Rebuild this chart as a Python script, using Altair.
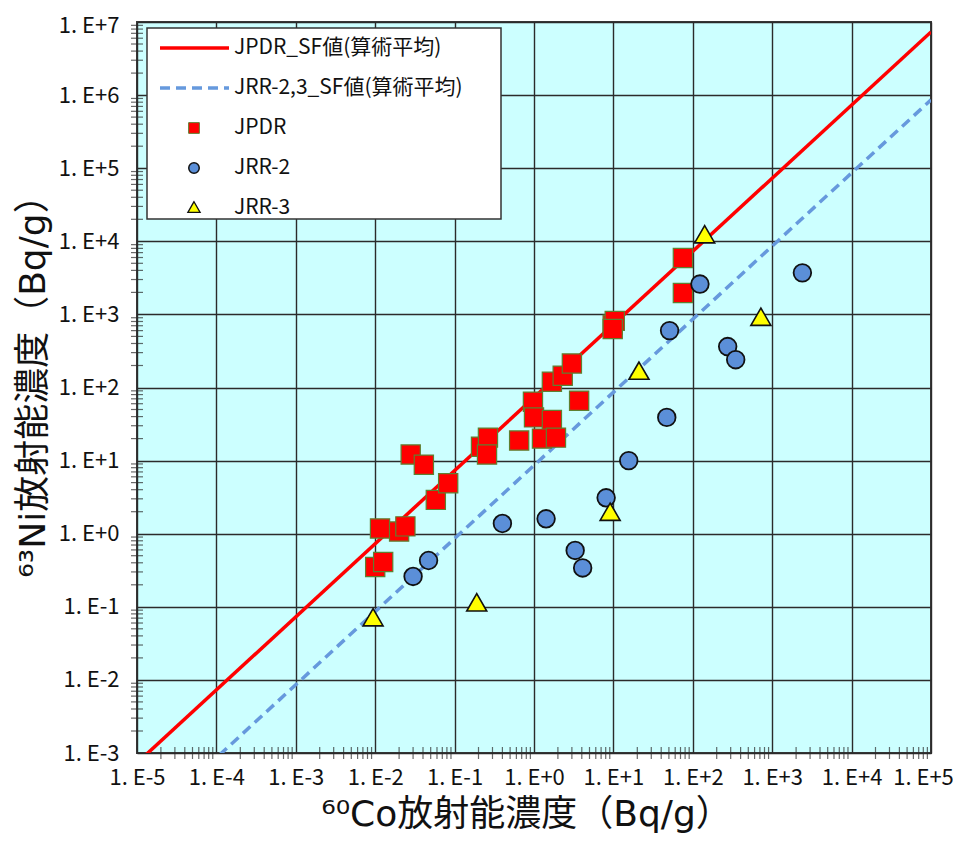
import altair as alt
import pandas as pd

# ---- data (Bq/g) ----
jpdr_co = [0.010, 0.0126, 0.0115, 0.020, 0.024, 0.028, 0.041, 0.058, 0.083, 0.215,
           0.263, 0.256, 0.65, 0.97, 1.0, 1.68, 1.26, 1.89, 1.68, 2.3, 3.0, 3.7,
           9.8, 10.4, 9.8, 75, 75]
jpdr_ni = [0.35, 0.41, 1.18, 1.07, 1.26, 12.1, 8.8, 2.9, 4.9, 15.5,
           20.6, 12.1, 18.8, 64, 39, 36, 20, 20.6, 120, 145, 213, 66,
           720, 815, 630, 5900, 1960]

jrr2_co = [0.030, 0.047, 0.40, 1.42, 3.3, 4.1, 8.1, 15.6, 47, 51, 123, 275, 347, 2400]
jrr2_ni = [0.26, 0.43, 1.38, 1.6, 0.59, 0.34, 3.1, 10, 39, 600, 2600, 363, 240, 3700]

jrr3_co = [0.0094, 0.19, 9.1, 21, 141, 720]
jrr3_ni = [0.072, 0.115, 2.0, 170, 12500, 930]

# scaling factors (arithmetic mean) Ni-63 / Co-60
sf_jpdr = 73.0
sf_jrr = 8.6
line_x = [1e-5, 1e5]

legend_labels = ["JPDR_SF値(算術平均)", "JRR-2,3_SF値(算術平均)", "JPDR", "JRR-2", "JRR-3"]

x_title = "⁶⁰Co放射能濃度（Bq/g）"
y_title = "⁶³Ni放射能濃度（Bq/g）"

# ---- tables ----
df_jpdr = pd.DataFrame({"co": jpdr_co, "ni": jpdr_ni})
df_jrr2 = pd.DataFrame({"co": jrr2_co, "ni": jrr2_ni})
df_jrr3 = pd.DataFrame({"co": jrr3_co, "ni": jrr3_ni})
df_l1 = pd.DataFrame({"co": line_x, "ni": [sf_jpdr * v for v in line_x]})
df_l2 = pd.DataFrame({"co": line_x, "ni": [sf_jrr * v for v in line_x]})
one = pd.DataFrame({"a": [0]})

FONT = "Noto Sans CJK JP"
TFONT = "DejaVu Sans, Noto Sans CJK JP"
xdec = [10.0 ** k for k in range(-5, 6)]
ydec = [10.0 ** k for k in range(-3, 8)]
xminor = pd.DataFrame({"v": [m * 10.0 ** k for k in range(-5, 5) for m in range(2, 10)]})
yminor = pd.DataFrame({"v": [m * 10.0 ** k for k in range(-3, 7) for m in range(2, 10)]})
lab = "'1. E' + (datum.value >= 1 ? '+' : '-') + abs(round(log(datum.value)/LN10))"

W, H = 794, 731
xscale = alt.Scale(type="log", domain=[1e-5, 1e5], nice=False)
yscale = alt.Scale(type="log", domain=[1e-3, 1e7], nice=False)

main_x = alt.Axis(values=xdec, labelExpr=lab, grid=True, gridColor="#2b2b2b", gridWidth=1.4,
                  ticks=False, domain=False, labelFont=FONT, labelFontSize=22, labelColor="#111",
                  labelPadding=14, labelFlush=False,
                  labelOffset={"condition": {"test": "datum.value > 5e4", "value": -8}, "value": 0},
                  title=x_title, titleFont=TFONT,
                  titleFontSize=36, titleFontWeight="normal", titleColor="#111",
                  titleX=389, titleY=61, titleAlign="center", titleBaseline="middle")
main_y = alt.Axis(values=ydec, labelExpr=lab, grid=True, gridColor="#2b2b2b", gridWidth=1.4,
                  ticks=False, domain=False, labelFont=FONT, labelFontSize=22, labelColor="#111",
                  labelPadding=18, labelFlush=False,
                  labelOffset={"condition": {"test": "datum.value > 5e6", "value": 3}, "value": 0},
                  title=y_title, titleFont=TFONT,
                  titleFontSize=36, titleFontWeight="normal", titleColor="#111",
                  titleX=-104, titleY=355, titleAngle=270, titleAlign="center",
                  titleBaseline="middle")

base_line1 = alt.Chart(df_l1).mark_line(color="#FF0000", strokeWidth=3.5, clip=True).encode(
    x=alt.X("co:Q", scale=xscale, axis=main_x),
    y=alt.Y("ni:Q", scale=yscale, axis=main_y),
)
line2 = alt.Chart(df_l2).mark_line(color="#6699DD", strokeWidth=3.5, strokeDash=[10, 6], clip=True).encode(
    x=alt.X("co:Q", scale=xscale), y=alt.Y("ni:Q", scale=yscale))

# inward minor ticks
xticks = alt.Chart(xminor).mark_tick(color="#2b2b2b", thickness=1.2, size=12).encode(
    x=alt.X("v:Q", scale=xscale), y=alt.value(H))
yticks = alt.Chart(yminor).mark_tick(color="#2b2b2b", thickness=1.2, size=12).encode(
    y=alt.Y("v:Q", scale=yscale), x=alt.value(0))

pts_jpdr = alt.Chart(df_jpdr).mark_point(shape="square", filled=True, size=370, fill="#FF0000",
                                          stroke="#5F7F30", strokeWidth=1.2, opacity=1).encode(
    x=alt.X("co:Q", scale=xscale), y=alt.Y("ni:Q", scale=yscale))
pts_jrr2 = alt.Chart(df_jrr2).mark_point(shape="circle", filled=True, size=310, fill="#5B8FD8",
                                          stroke="#111", strokeWidth=1.8, opacity=1).encode(
    x=alt.X("co:Q", scale=xscale), y=alt.Y("ni:Q", scale=yscale))
pts_jrr3 = alt.Chart(df_jrr3).mark_point(shape="triangle-up", filled=True, size=400, fill="#FFFF00",
                                          stroke="#111", strokeWidth=1.6, opacity=1).encode(
    x=alt.X("co:Q", scale=xscale), y=alt.Y("ni:Q", scale=yscale))

# ---- legend (drawn inside the plot, top-left) ----
leg_box = alt.Chart(one).mark_rect(fill="white", stroke="#333", strokeWidth=1.5).encode(
    x=alt.value(10), x2=alt.value(364), y=alt.value(6), y2=alt.value(197))
leg_l1 = alt.Chart(one).mark_rule(color="#FF0000", strokeWidth=3.5).encode(
    x=alt.value(23), x2=alt.value(92), y=alt.value(26))
leg_l2 = alt.Chart(one).mark_rule(color="#6699DD", strokeWidth=3.5, strokeDash=[10, 6]).encode(
    x=alt.value(23), x2=alt.value(92), y=alt.value(66))
leg_s1 = alt.Chart(one).mark_point(shape="square", filled=True, size=115, fill="#FF0000",
                                   stroke="#5F7F30", strokeWidth=1, opacity=1).encode(
    x=alt.value(57), y=alt.value(106))
leg_s2 = alt.Chart(one).mark_point(shape="circle", filled=True, size=110, fill="#5B8FD8",
                                   stroke="#111", strokeWidth=1.5, opacity=1).encode(
    x=alt.value(57), y=alt.value(146))
leg_s3 = alt.Chart(one).mark_point(shape="triangle-up", filled=True, size=150, fill="#FFFF00",
                                   stroke="#111", strokeWidth=1.3, opacity=1).encode(
    x=alt.value(57), y=alt.value(185))
leg_texts = [
    alt.Chart(pd.DataFrame({"t": [t]})).mark_text(align="left", baseline="middle", font=FONT,
                                                  fontSize=21, color="#111").encode(
        text="t:N", x=alt.value(97), y=alt.value(26 + 40 * i))
    for i, t in enumerate(legend_labels)
]

chart = alt.layer(
    base_line1, line2, xticks, yticks, pts_jpdr, pts_jrr2, pts_jrr3,
    leg_box, leg_l1, leg_l2, leg_s1, leg_s2, leg_s3, *leg_texts
).properties(
    width=W, height=H,
    padding={"left": 129, "top": 14, "right": 22, "bottom": 82},
    autosize=alt.AutoSizeParams(type="none"),
    background="white",
).configure_view(fill="#CCFFFF", stroke="#3a3a3a", strokeWidth=2)

chart.save("out.html", embed_options={"renderer": "svg", "actions": False})
